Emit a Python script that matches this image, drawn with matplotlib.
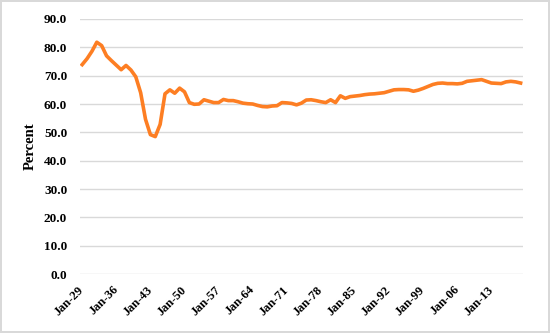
import matplotlib
matplotlib.use("Agg")
import matplotlib.pyplot as plt

# annual share, 1929-2019
years = list(range(1929, 2020))
percent = [
    73.9, 76.0, 78.6, 81.8, 80.6, 77.0, 75.3, 73.7, 72.1, 73.6,
    72.0, 69.6, 64.0, 54.6, 49.2, 48.5, 52.8, 63.6, 65.0, 63.8,
    65.6, 64.3, 60.5, 59.9, 60.0, 61.5, 61.0, 60.5, 60.5, 61.6,
    61.2, 61.2, 60.8, 60.3, 60.1, 60.0, 59.5, 59.1, 59.0, 59.3,
    59.4, 60.5, 60.4, 60.2, 59.7, 60.3, 61.4, 61.5, 61.2, 60.8,
    60.5, 61.5, 60.5, 62.9, 62.0, 62.6, 62.8, 63.0, 63.3, 63.5,
    63.6, 63.8, 64.0, 64.5, 65.0, 65.1, 65.1, 65.0, 64.5, 64.9,
    65.5, 66.2, 66.9, 67.3, 67.4, 67.2, 67.2, 67.1, 67.3, 68.0,
    68.2, 68.4, 68.6, 68.0, 67.4, 67.3, 67.2, 67.8, 68.0, 67.8,
    67.4,
]
tick_years = list(range(1929, 2014, 7))
tick_labels = ["Jan-%02d" % (y % 100) for y in tick_years]
y_ticks = [0, 10, 20, 30, 40, 50, 60, 70, 80, 90]

plt.rcParams['font.family'] = ['Liberation Serif', 'DejaVu Serif']

fig = plt.figure(figsize=(5.5, 3.33), dpi=100, edgecolor='#d9d9d9', linewidth=1.5)
ax = fig.add_axes([0.145, 0.177, 0.806, 0.766])

ax.plot(years, percent, color='#fd7e23', linewidth=2.6, solid_joinstyle='round')

ax.set_xlim(1928.5, 2019.5)
ax.set_ylim(0, 90)
ax.set_yticks(y_ticks)
ax.set_yticklabels(["%.1f" % v for v in y_ticks], fontsize=9.5, fontweight='bold')
ax.set_xticks(tick_years)
ax.set_xticklabels(tick_labels, fontsize=9, fontweight='bold', rotation=45,
                   ha='right', va='center', rotation_mode='anchor')

ax.grid(axis='y', color='#d9d9d9', linewidth=1)
ax.set_axisbelow(True)
for s in ax.spines.values():
    s.set_visible(False)
ax.tick_params(axis='both', length=0)
ax.tick_params(axis='x', pad=10)
ax.tick_params(axis='y', pad=9)

ax.set_ylabel("Percent", fontsize=10.5, fontweight='bold', labelpad=5)

fig.savefig("out.png", dpi=100)
